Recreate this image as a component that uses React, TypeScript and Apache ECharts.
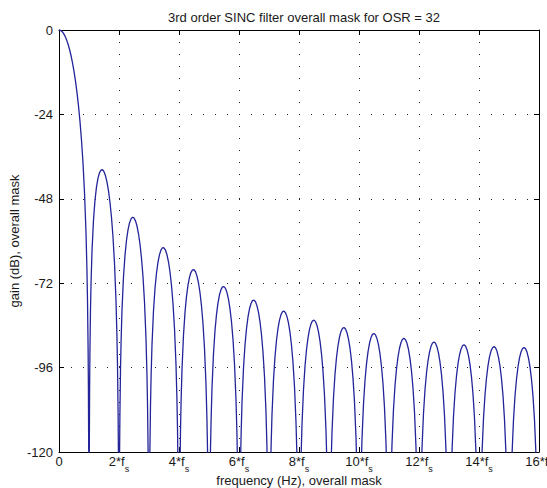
import React, { useEffect, useRef } from "react";
import * as echarts from "echarts";

// Frequency in units of fs (output sample rate)
const freqFs: number[] = [
  // main lobe
  0, 0.05, 0.1, 0.15, 0.2, 0.25, 0.3, 0.35, 0.4, 0.45, 0.5, 0.55, 0.6, 0.65, 0.7, 0.75, 0.8, 0.85, 0.9, 0.93, 0.95, 0.97, 0.98, 0.99,
  // lobe 1
  1.01, 1.02, 1.03, 1.05, 1.07, 1.1, 1.15, 1.2, 1.25, 1.3, 1.35, 1.4, 1.45, 1.5, 1.55, 1.6, 1.65, 1.7, 1.75, 1.8, 1.85, 1.9, 1.93, 1.95, 1.97, 1.98, 1.99,
  // lobe 2
  2.01, 2.02, 2.03, 2.05, 2.07, 2.1, 2.15, 2.2, 2.25, 2.3, 2.35, 2.4, 2.45, 2.5, 2.55, 2.6, 2.65, 2.7, 2.75, 2.8, 2.85, 2.9, 2.93, 2.95, 2.97, 2.98,
  // lobe 3
  3.02, 3.03, 3.05, 3.07, 3.1, 3.15, 3.2, 3.25, 3.3, 3.35, 3.4, 3.45, 3.5, 3.55, 3.6, 3.65, 3.7, 3.75, 3.8, 3.85, 3.9, 3.93, 3.95, 3.97,
  // lobe 4
  4.03, 4.05, 4.07, 4.1, 4.15, 4.2, 4.25, 4.3, 4.35, 4.4, 4.45, 4.5, 4.55, 4.6, 4.65, 4.7, 4.75, 4.8, 4.85, 4.9, 4.93, 4.95, 4.97,
  // lobe 5
  5.03, 5.05, 5.07, 5.1, 5.15, 5.2, 5.25, 5.3, 5.35, 5.4, 5.45, 5.5, 5.55, 5.6, 5.65, 5.7, 5.75, 5.8, 5.85, 5.9, 5.93, 5.95,
  // lobe 6
  6.05, 6.07, 6.1, 6.15, 6.2, 6.25, 6.3, 6.35, 6.4, 6.45, 6.5, 6.55, 6.6, 6.65, 6.7, 6.75, 6.8, 6.85, 6.9, 6.93, 6.95,
  // lobe 7
  7.05, 7.07, 7.1, 7.15, 7.2, 7.25, 7.3, 7.35, 7.4, 7.45, 7.5, 7.55, 7.6, 7.65, 7.7, 7.75, 7.8, 7.85, 7.9, 7.93,
  // lobe 8
  8.07, 8.1, 8.15, 8.2, 8.25, 8.3, 8.35, 8.4, 8.45, 8.5, 8.55, 8.6, 8.65, 8.7, 8.75, 8.8, 8.85, 8.9, 8.93,
  // lobe 9
  9.07, 9.1, 9.15, 9.2, 9.25, 9.3, 9.35, 9.4, 9.45, 9.5, 9.55, 9.6, 9.65, 9.7, 9.75, 9.8, 9.85, 9.9, 9.93,
  // lobe 10
  10.07, 10.1, 10.15, 10.2, 10.25, 10.3, 10.35, 10.4, 10.45, 10.5, 10.55, 10.6, 10.65, 10.7, 10.75, 10.8, 10.85, 10.9, 10.93,
  // lobe 11
  11.07, 11.1, 11.15, 11.2, 11.25, 11.3, 11.35, 11.4, 11.45, 11.5, 11.55, 11.6, 11.65, 11.7, 11.75, 11.8, 11.85, 11.9, 11.93,
  // lobe 12
  12.07, 12.1, 12.15, 12.2, 12.25, 12.3, 12.35, 12.4, 12.45, 12.5, 12.55, 12.6, 12.65, 12.7, 12.75, 12.8, 12.85, 12.9, 12.93,
  // lobe 13
  13.07, 13.1, 13.15, 13.2, 13.25, 13.3, 13.35, 13.4, 13.45, 13.5, 13.55, 13.6, 13.65, 13.7, 13.75, 13.8, 13.85, 13.9, 13.93,
  // lobe 14
  14.07, 14.1, 14.15, 14.2, 14.25, 14.3, 14.35, 14.4, 14.45, 14.5, 14.55, 14.6, 14.65, 14.7, 14.75, 14.8, 14.85, 14.9, 14.93,
  // lobe 15
  15.07, 15.1, 15.15, 15.2, 15.25, 15.3, 15.35, 15.4, 15.45, 15.5, 15.55, 15.6, 15.65, 15.7, 15.75, 15.8, 15.85, 15.9, 15.93,
];

// Gain in dB
const gainDb: number[] = [
  // main lobe
  0, -0.11, -0.43, -0.97, -1.74, -2.74, -3.98, -5.47, -7.25, -9.34, -11.76, -14.56, -17.81, -21.59, -26.04, -31.34, -37.83, -46.14, -57.65, -67.66, -76.8, -90.58, -101.39, -119.7,
  // lobe 1
  -120.22, -102.43, -92.14, -79.39, -71.3, -62.86, -53.99, -48.37, -44.61, -42.12, -40.58, -39.83, -39.74, -40.3, -41.47, -43.28, -45.77, -49.06, -53.31, -58.86, -66.3, -77.0, -86.57, -95.41, -108.92, -119.6, -137.76,
  // lobe 2
  -138.02, -120.11, -109.69, -96.7, -88.37, -79.58, -70.16, -64.02, -59.78, -56.83, -54.87, -53.71, -53.25, -53.44, -54.27, -55.75, -57.94, -60.93, -64.9, -70.18, -77.36, -87.82, -97.24, -105.99, -119.41, -130.04,
  // lobe 3
  -130.29, -119.89, -106.81, -98.38, -89.46, -79.82, -73.48, -69.11, -65.99, -63.87, -62.54, -61.92, -61.96, -62.61, -63.93, -65.97, -68.81, -72.65, -77.8, -84.86, -95.22, -104.58, -113.29, -126.66,
  // lobe 4
  -127.03, -113.91, -105.44, -96.46, -86.73, -80.29, -75.76, -72.53, -70.31, -68.9, -68.2, -68.17, -68.74, -69.99, -71.94, -74.71, -78.47, -83.54, -90.53, -100.8, -110.11, -118.8, -132.14,
  // lobe 5
  -132.43, -119.28, -110.79, -101.76, -91.97, -85.46, -80.87, -77.59, -75.3, -73.83, -73.06, -72.97, -73.49, -74.68, -76.59, -79.3, -83.01, -88.03, -94.96, -105.19, -114.47, -123.13,
  // lobe 6
  -123.51, -115.0, -105.95, -96.12, -89.57, -84.93, -81.6, -79.27, -77.76, -76.95, -76.81, -77.29, -78.45, -80.31, -82.99, -86.66, -91.64, -98.54, -108.72, -117.98, -126.63,
  // lobe 7
  -126.94, -118.42, -109.35, -99.47, -92.89, -88.22, -84.86, -82.5, -80.94, -80.1, -79.93, -80.39, -81.51, -83.35, -85.99, -89.64, -94.59, -101.46, -111.61, -120.85,
  // lobe 8
  -121.21, -112.12, -102.23, -95.62, -90.92, -87.53, -85.14, -83.57, -82.7, -82.5, -82.93, -84.03, -85.84, -88.46, -92.08, -97.01, -103.85, -113.98, -123.21,
  // lobe 9
  -123.5, -114.4, -104.48, -97.85, -93.13, -89.72, -87.31, -85.71, -84.82, -84.6, -85.01, -86.09, -87.88, -90.48, -94.08, -98.99, -105.81, -115.92, -125.13,
  // lobe 10
  -125.37, -116.26, -106.32, -99.67, -94.94, -91.51, -89.08, -87.46, -86.55, -86.31, -86.7, -87.76, -89.54, -92.12, -95.7, -100.59, -107.39, -117.49, -126.69,
  // lobe 11
  -126.88, -117.76, -107.81, -101.14, -96.39, -92.94, -90.5, -88.86, -87.94, -87.68, -88.06, -89.1, -90.86, -93.43, -97.0, -101.87, -108.66, -118.74, -127.93,
  // lobe 12
  -128.08, -118.95, -108.98, -102.3, -97.53, -94.06, -91.6, -89.95, -89.01, -88.74, -89.1, -90.13, -91.88, -94.43, -97.98, -102.84, -109.61, -119.68, -128.87,
  // lobe 13
  -128.97, -119.83, -109.85, -103.15, -98.37, -94.9, -92.42, -90.76, -89.8, -89.52, -89.87, -90.89, -92.61, -95.15, -98.69, -103.54, -110.3, -120.34, -129.52,
  // lobe 14
  -129.59, -120.45, -110.45, -103.74, -98.95, -95.46, -92.97, -91.29, -90.33, -90.03, -90.37, -91.37, -93.09, -95.61, -99.14, -103.97, -110.72, -120.75, -129.92,
  // lobe 15
  -129.95, -120.8, -110.79, -104.07, -99.26, -95.76, -93.26, -91.57, -90.59, -90.28, -90.6, -91.6, -93.3, -95.81, -99.33, -104.15, -110.88, -120.91, -130.07,
];

const xTicks = [0, 2, 4, 6, 8, 10, 12, 14, 16];
const yTicks = [0, -24, -48, -72, -96, -120];

const TITLE = "3rd order SINC filter overall mask for OSR = 32";
const X_NAME = "frequency (Hz), overall mask";
const Y_NAME = "gain (dB), overall mask";

const FONT = "'Liberation Sans', Arial, Helvetica, sans-serif";
const TEXT_COLOR = "#1a1a1a";

export default function App() {
  const ref = useRef<HTMLDivElement>(null);

  useEffect(() => {
    if (!ref.current) return;
    const chart = echarts.init(ref.current, undefined, { renderer: "svg" });
    const data = freqFs.map((f, i) => [f, gainDb[i]]);
    const xMin = xTicks[0];
    const xMax = xTicks[xTicks.length - 1];
    const xInt = xTicks[1] - xTicks[0];
    const yMin = yTicks[yTicks.length - 1];
    const yMax = yTicks[0];
    const yInt = yTicks[0] - yTicks[1];

    const axisLine = { show: true, onZero: false, lineStyle: { color: "#000", width: 1 } };
    const tick = { show: true, inside: true, length: 5, lineStyle: { color: "#000", width: 1 } };
    const grid = { show: true, lineStyle: { color: "#222", width: 1, type: [1, 11] as any } };

    chart.setOption({
      animation: false,
      backgroundColor: "#fff",
      textStyle: { fontFamily: FONT },
      title: {
        text: TITLE,
        left: 299,
        top: 6,
        textAlign: "center",
        textStyle: { fontSize: 13, fontWeight: "normal", color: TEXT_COLOR, fontFamily: FONT },
      },
      grid: { left: 59, right: 8, top: 30, bottom: 36, outerBoundsMode: "none" },
      xAxis: [
        {
          type: "value",
          min: xMin,
          max: xMax,
          interval: xInt,
          position: "bottom",
          name: X_NAME,
          nameLocation: "middle",
          nameGap: 22,
          nameMoveOverlap: false,
          nameTextStyle: { fontSize: 13, color: TEXT_COLOR, fontFamily: FONT },
          axisLine,
          axisTick: tick,
          splitLine: grid,
          axisLabel: {
            show: true,
            margin: 3,
            showMaxLabel: true,
            showMinLabel: true,
            color: TEXT_COLOR,
            fontFamily: FONT,
            formatter: (v: number) => (v === 0 ? "{n|0}" : `{n|${v}*f}{s|s}`),
            rich: {
              n: { fontSize: 13, color: TEXT_COLOR, fontFamily: FONT, verticalAlign: "top", lineHeight: 13 },
              s: { fontSize: 9, color: TEXT_COLOR, fontFamily: FONT, verticalAlign: "bottom", lineHeight: 18 },
            },
          },
        },
        {
          type: "value",
          min: xMin,
          max: xMax,
          interval: xInt,
          position: "top",
          axisLine,
          axisTick: tick,
          axisLabel: { show: false },
          splitLine: { show: false },
        },
      ],
      yAxis: [
        {
          type: "value",
          min: yMin,
          max: yMax,
          interval: yInt,
          position: "left",
          name: Y_NAME,
          nameLocation: "middle",
          nameGap: 38,
          nameMoveOverlap: false,
          nameTextStyle: { fontSize: 13, color: TEXT_COLOR, fontFamily: FONT },
          axisLine,
          axisTick: tick,
          splitLine: grid,
          axisLabel: { show: true, margin: 6, fontSize: 13, color: TEXT_COLOR, fontFamily: FONT },
        },
        {
          type: "value",
          min: yMin,
          max: yMax,
          interval: yInt,
          position: "right",
          axisLine,
          axisTick: tick,
          axisLabel: { show: false },
          splitLine: { show: false },
        },
      ],
      series: [
        {
          type: "line",
          data,
          xAxisIndex: 0,
          yAxisIndex: 0,
          showSymbol: false,
          symbol: "none",
          clip: true,
          smooth: false,
          lineStyle: { color: "#24249a", width: 1.3 },
          emphasis: { disabled: true },
        },
      ],
    });
    return () => chart.dispose();
  }, []);

  return <div ref={ref} style={{ width: 547, height: 488, position: "absolute", left: 0, top: 0 }} />;
}
